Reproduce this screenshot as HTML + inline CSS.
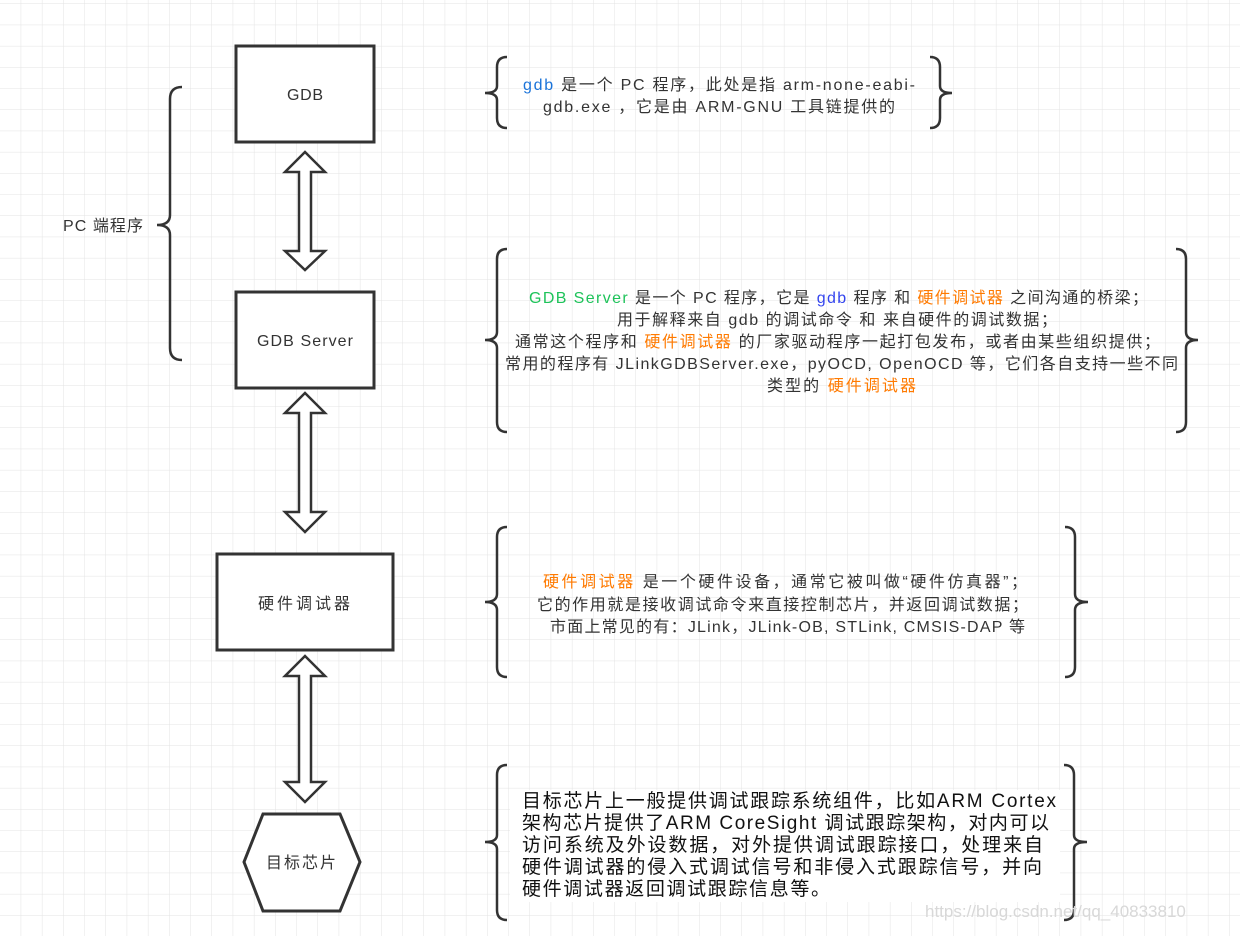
<!DOCTYPE html>
<html><head><meta charset="utf-8"><style>
html,body{margin:0;padding:0;background:#fff}
svg{display:block}
text{font-family:"Liberation Sans","Noto Sans CJK SC",sans-serif;fill:#333}
</style></head><body>
<svg width="1240" height="936" viewBox="0 0 1240 936" xmlns="http://www.w3.org/2000/svg">
<defs><pattern id="g" x="20.7" y="3.5" width="21.2" height="21.2" patternUnits="userSpaceOnUse"><path d="M0 0H21.2M0 0V21.2" stroke="#e3e3e3" stroke-width="1" fill="none"/></pattern></defs>
<rect width="1240" height="936" fill="url(#g)"/>
<rect x="510" y="790" width="550" height="112" fill="#fff"/>
<g stroke="#333" stroke-width="3" fill="#fff">
<rect x="236" y="46" width="138" height="96"/>
<rect x="236" y="292" width="138" height="96"/>
<rect x="217" y="554" width="176" height="96"/>
<polygon points="263,814 340,814 360,862 340,911 263,911 244,862"/>
</g>
<g stroke="#333" stroke-width="2.5" fill="#fff" stroke-linejoin="miter">
<polygon points="305,152 325,172 311,172 311,251 325,251 305,270 285,251 299,251 299,172 285,172"/>
<polygon points="305,393 325,413 311,413 311,512 325,512 305,532 285,512 299,512 299,413 285,413"/>
<polygon points="305,656 325,676 311,676 311,782 325,782 305,802 285,782 299,782 299,676 285,676"/>
</g>
<g stroke="#333" stroke-width="2.5" fill="none">
<path d="M182 87 Q170 87 170 99 V215 Q170 225 157 225 Q170 225 170 235 V348 Q170 360 182 360"/>
<path d="M507 57 Q497 57 497 67 V86 Q497 93 485 93 Q497 93 497 100 V118 Q497 128 507 128"/>
<path d="M930 57 Q940 57 940 67 V86 Q940 93 952 93 Q940 93 940 100 V118 Q940 128 930 128"/>
<path d="M507 249 Q497 249 497 259 V332 Q497 340 485 340 Q497 340 497 348 V422 Q497 432 507 432"/>
<path d="M1176 249 Q1186 249 1186 259 V332 Q1186 340 1198 340 Q1186 340 1186 348 V422 Q1186 432 1176 432"/>
<path d="M507 527 Q497 527 497 537 V594 Q497 602 485 602 Q497 602 497 610 V667 Q497 677 507 677"/>
<path d="M1065 527 Q1075 527 1075 537 V594 Q1075 602 1088 602 Q1075 602 1075 610 V667 Q1075 677 1065 677"/>
<path d="M507 765 Q497 765 497 775 V835 Q497 842 485 842 Q497 842 497 849 V910 Q497 920 507 920"/>
<path d="M1064 765 Q1074 765 1074 775 V835 Q1074 842 1087 842 Q1074 842 1074 849 V910 Q1074 920 1064 920"/>
</g>
<g font-size="16">
<text x="287" y="100" textLength="36">GDB</text>
<text x="257" y="346" textLength="96">GDB Server</text>
<text x="258" y="609" textLength="92">硬件调试器</text>
<text x="266" y="868" textLength="70">目标芯片</text>
<text x="63" y="231" textLength="80">PC 端程序</text>
</g>
<g font-size="16">
<text x="523" y="90" textLength="392"><tspan fill="#1a73d9">gdb</tspan> 是一个 PC 程序，此处是指 arm-none-eabi-</text>
<text x="543" y="112" textLength="352">gdb.exe ，它是由 ARM-GNU 工具链提供的</text>
<text x="529" y="303" textLength="619"><tspan fill="#1ec35a">GDB Server</tspan> 是一个 PC 程序，它是 <tspan fill="#3344ee">gdb</tspan> 程序 和 <tspan fill="#ff7a00">硬件调试器</tspan> 之间沟通的桥梁；</text>
<text x="617" y="325" textLength="440">用于解释来自 gdb 的调试命令 和 来自硬件的调试数据；</text>
<text x="515" y="347" textLength="645">通常这个程序和 <tspan fill="#ff7a00">硬件调试器</tspan> 的厂家驱动程序一起打包发布，或者由某些组织提供；</text>
<text x="505" y="369" textLength="673">常用的程序有 JLinkGDBServer.exe，pyOCD, OpenOCD 等，它们各自支持一些不同</text>
<text x="767" y="391" textLength="149">类型的 <tspan fill="#ff7a00">硬件调试器</tspan></text>
<text x="543" y="587" textLength="484"><tspan fill="#ff7a00">硬件调试器</tspan> 是一个硬件设备，通常它被叫做“硬件仿真器”；</text>
<text x="537" y="610" textLength="491">它的作用就是接收调试命令来直接控制芯片，并返回调试数据；</text>
<text x="550" y="632" textLength="475">市面上常见的有：JLink，JLink-OB, STLink, CMSIS-DAP 等</text>
</g>
<g font-size="19">
<text x="522" y="807" textLength="534" style="fill:#111">目标芯片上一般提供调试跟踪系统组件，比如ARM Cortex</text>
<text x="522" y="829" textLength="527" style="fill:#111">架构芯片提供了ARM CoreSight 调试跟踪架构，对内可以</text>
<text x="522" y="851" textLength="521" style="fill:#111">访问系统及外设数据，对外提供调试跟踪接口，处理来自</text>
<text x="522" y="873" textLength="520" style="fill:#111">硬件调试器的侵入式调试信号和非侵入式跟踪信号，并向</text>
<text x="522" y="895" textLength="308" style="fill:#111">硬件调试器返回调试跟踪信息等。</text>
</g>
<text x="925" y="917" font-size="17" style="fill:#d8d8d8">https://blog.csdn.net/qq_40833810</text>
</svg>
</body></html>
